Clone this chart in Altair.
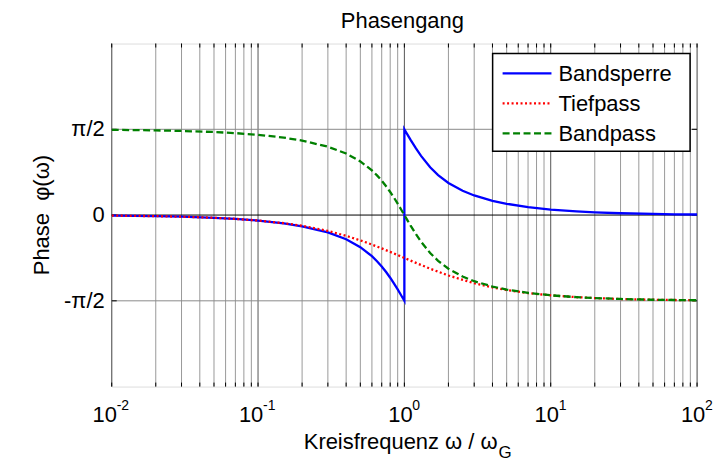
import math
import altair as alt
import pandas as pd

# ---------------- data ----------------
w_bs = [0.01, 0.02, 0.03, 0.05, 0.07, 0.1, 0.15, 0.2, 0.3, 0.4, 0.5, 0.6, 0.65, 0.7, 0.75, 0.8,
        0.85, 0.9, 0.95, 0.97, 1.0,
        1.0, 1.02, 1.05, 1.1, 1.2, 1.3, 1.5, 1.7, 2, 2.5, 3, 4, 5, 7, 10, 15, 20, 30, 50, 70, 100]
phi_bs = [-0.010, -0.020, -0.030, -0.050, -0.070, -0.101, -0.153, -0.206, -0.319, -0.444, -0.588,
          -0.754, -0.845, -0.941, -1.043, -1.148, -1.255, -1.363, -1.469, -1.510, -1.571,
          1.571, 1.531, 1.474, 1.382, 1.220, 1.083, 0.876, 0.733, 0.588, 0.445, 0.359, 0.261,
          0.206, 0.145, 0.101, 0.067, 0.050, 0.033, 0.020, 0.014, 0.010]

w_tp = [0.01, 0.02, 0.03, 0.05, 0.07, 0.1, 0.15, 0.2, 0.3, 0.4, 0.5, 0.6, 0.7, 0.8, 0.9, 1.0,
        1.2, 1.5, 2, 3, 4, 5, 7, 10, 15, 20, 30, 50, 70, 100]
phi_tp = [-0.010, -0.020, -0.030, -0.050, -0.070, -0.100, -0.149, -0.197, -0.291, -0.381, -0.464,
          -0.540, -0.611, -0.675, -0.733, -0.785, -0.876, -0.983, -1.107, -1.249, -1.326, -1.373,
          -1.429, -1.471, -1.504, -1.521, -1.538, -1.551, -1.556, -1.561]

w_bp = [0.01, 0.02, 0.03, 0.05, 0.07, 0.1, 0.15, 0.2, 0.3, 0.4, 0.5, 0.6, 0.65, 0.7, 0.75, 0.8,
        0.85, 0.9, 0.95, 1.0, 1.05, 1.1, 1.2, 1.3, 1.5, 1.7, 2, 2.5, 3, 4, 5, 7, 10, 15, 20, 30,
        50, 70, 100]
phi_bp = [1.561, 1.551, 1.541, 1.521, 1.501, 1.470, 1.418, 1.365, 1.252, 1.127, 0.983, 0.817,
          0.726, 0.630, 0.528, 0.423, 0.316, 0.208, 0.102, 0.000, -0.097, -0.189, -0.351, -0.488,
          -0.695, -0.838, -0.983, -1.126, -1.212, -1.310, -1.365, -1.426, -1.470, -1.504, -1.521,
          -1.537, -1.551, -1.556, -1.561]

series_names = ["Bandsperre", "Tiefpass", "Bandpass"]
series_colors = ["#0000ff", "#ff0000", "#008000"]

y_ticks = [-math.pi / 2, 0.0, math.pi / 2]
y_labels = ["-π/2", "0", "π/2"]
x_decades = [0.01, 0.1, 1, 10, 100]
x_exponents = ["-2", "-1", "0", "1", "2"]
x_minor = [m * d for d in [0.01, 0.1, 1, 10] for m in range(2, 10)]

W, H = 587, 344

df_bs = pd.DataFrame({"w": w_bs, "phi": phi_bs, "o": range(len(w_bs))})
df_tp = pd.DataFrame({"w": w_tp, "phi": phi_tp, "o": range(len(w_tp))})
df_bp = pd.DataFrame({"w": w_bp, "phi": phi_bp, "o": range(len(w_bp))})

xs = alt.Scale(type="log", domain=[0.01, 100])
ys = alt.Scale(domain=[-math.pi, math.pi], nice=False, zero=False)

FONT = "Liberation Sans"

# ---------------- grid ----------------
minor_df = pd.DataFrame({"w": x_minor})
major_df = pd.DataFrame({"w": x_decades})
hgrid_df = pd.DataFrame({"phi": [y_ticks[0], y_ticks[2]]})
zero_df = pd.DataFrame({"phi": [0.0]})

minor_grid = alt.Chart(minor_df).mark_rule(color="#9a9a9a", strokeWidth=1).encode(
    x=alt.X("w:Q", scale=xs, axis=None))
major_grid = alt.Chart(major_df).mark_rule(color="#555555", strokeWidth=1).encode(
    x=alt.X("w:Q", scale=xs, axis=None))
h_grid = alt.Chart(hgrid_df).mark_rule(color="#8a8a8a", strokeWidth=1).encode(
    y=alt.Y("phi:Q", scale=ys, axis=None))
zero_line = alt.Chart(zero_df).mark_rule(color="#000000", strokeWidth=1).encode(
    y=alt.Y("phi:Q", scale=ys, axis=None))

# inward ticks
all_x_ticks = pd.DataFrame({"w": x_minor + x_decades})
top_ticks = alt.Chart(all_x_ticks).mark_rule(color="black").encode(
    x=alt.X("w:Q", scale=xs, axis=None), y=alt.value(0), y2=alt.value(4))
bot_ticks = alt.Chart(all_x_ticks).mark_rule(color="black").encode(
    x=alt.X("w:Q", scale=xs, axis=None), y=alt.value(H - 4), y2=alt.value(H))
ytick_df = pd.DataFrame({"phi": y_ticks, "lab": y_labels})
right_ticks = alt.Chart(ytick_df).mark_rule(color="black").encode(
    y=alt.Y("phi:Q", scale=ys, axis=None), x=alt.value(W - 5), x2=alt.value(W))
left_ticks = alt.Chart(ytick_df).mark_rule(color="black").encode(
    y=alt.Y("phi:Q", scale=ys, axis=None), x=alt.value(0), x2=alt.value(5))

# y tick labels
ylabels = alt.Chart(ytick_df).mark_text(font=FONT, fontSize=22, align="right",
                                        baseline="middle", color="black").encode(
    y=alt.Y("phi:Q", scale=ys, axis=None), x=alt.value(-7), text="lab:N")

# ---------------- curves ----------------
def curve(df, color, dash, width):
    kw = dict(color=color, strokeWidth=width, clip=True)
    if dash:
        kw["strokeDash"] = dash
    return alt.Chart(df).mark_line(**kw).encode(
        x=alt.X("w:Q", scale=xs, axis=None),
        y=alt.Y("phi:Q", scale=ys, axis=None),
        order="o:Q",
    )

line_bs = curve(df_bs, series_colors[0], None, 2.3)
line_tp = curve(df_tp, series_colors[1], [2, 2.5], 2.3)
line_bp = curve(df_bp, series_colors[2], [7, 3.5], 2.3)

# x tick labels: 10 with superscript exponent
lab_df = pd.DataFrame({"w": x_decades, "e": x_exponents})
lab_neg = lab_df[lab_df["e"].str.len() == 2]
lab_pos = lab_df[lab_df["e"].str.len() == 1]
ten_neg = alt.Chart(lab_neg).mark_text(text="10", font=FONT, fontSize=22, align="center",
                                       baseline="alphabetic", dx=-7).encode(
    x=alt.X("w:Q", scale=xs, axis=None), y=alt.value(H + 36))
ten_pos = alt.Chart(lab_pos).mark_text(text="10", font=FONT, fontSize=22, align="center",
                                       baseline="alphabetic", dx=-4).encode(
    x=alt.X("w:Q", scale=xs, axis=None), y=alt.value(H + 36))
exp_neg = alt.Chart(lab_neg).mark_text(font=FONT, fontSize=14, align="left",
                                       baseline="alphabetic", dx=5).encode(
    x=alt.X("w:Q", scale=xs, axis=None), y=alt.value(H + 23), text="e:N")
exp_pos = alt.Chart(lab_pos).mark_text(font=FONT, fontSize=14, align="left",
                                       baseline="alphabetic", dx=8).encode(
    x=alt.X("w:Q", scale=xs, axis=None), y=alt.value(H + 23), text="e:N")

# ---------------- titles ----------------
title_txt = alt.Chart(pd.DataFrame({"t": ["Phasengang"]})).mark_text(
    font=FONT, fontSize=22, align="center", baseline="alphabetic").encode(
    x=alt.value(W / 2 - 2), y=alt.value(-16), text="t:N")
xtitle_main = alt.Chart(pd.DataFrame({"t": ["Kreisfrequenz ω / ω"]})).mark_text(
    font=FONT, fontSize=22, align="right", baseline="alphabetic").encode(
    x=alt.value(387), y=alt.value(H + 63), text="t:N")
xtitle_sub = alt.Chart(pd.DataFrame({"t": ["G"]})).mark_text(
    font=FONT, fontSize=17, align="left", baseline="alphabetic").encode(
    x=alt.value(388), y=alt.value(H + 72), text="t:N")
ytitle = alt.Chart(pd.DataFrame({"t": ["Phase\u00a0\u00a0φ(ω)"]})).mark_text(
    font=FONT, fontSize=22, align="center", baseline="middle", angle=270).encode(
    x=alt.value(-70), y=alt.value(H / 2), text="t:N")

# ---------------- legend ----------------
LX0, LX1, LY0, LY1 = 382, 580, 10, 108
legend_box = alt.Chart(pd.DataFrame({"a": [0]})).mark_rect(
    fill="white", stroke="black", strokeWidth=1.5).encode(
    x=alt.value(LX0), x2=alt.value(LX1), y=alt.value(LY0), y2=alt.value(LY1))
legend_parts = [legend_box]
dashes = [None, [2, 2.5], [7, 3.5]]
for i, (name, col, dsh) in enumerate(zip(series_names, series_colors, dashes)):
    yy = 30 + 30 * i
    kw = dict(color=col, strokeWidth=2.3)
    if dsh:
        kw["strokeDash"] = dsh
    legend_parts.append(alt.Chart(pd.DataFrame({"a": [0]})).mark_rule(**kw).encode(
        x=alt.value(392), x2=alt.value(441), y=alt.value(yy)))
    legend_parts.append(alt.Chart(pd.DataFrame({"t": [name]})).mark_text(
        font=FONT, fontSize=22, align="left", baseline="middle").encode(
        x=alt.value(448), y=alt.value(yy + 1), text="t:N"))

chart = alt.layer(
    minor_grid, major_grid, h_grid, zero_line,
    top_ticks, bot_ticks, right_ticks, left_ticks,
    ylabels,
    line_bs, line_tp, line_bp,
    *legend_parts,
    ten_neg, ten_pos, exp_neg, exp_pos,
    title_txt, xtitle_main, xtitle_sub, ytitle,
).properties(
    width=W, height=H,
    autosize=alt.AutoSizeParams(type="none"),
    padding={"left": 104, "top": 35, "right": 19, "bottom": 74},
).configure_view(stroke="black", strokeWidth=1.5).configure(background="white")

chart.save("out.html", embed_options={"renderer": "svg", "actions": False})
